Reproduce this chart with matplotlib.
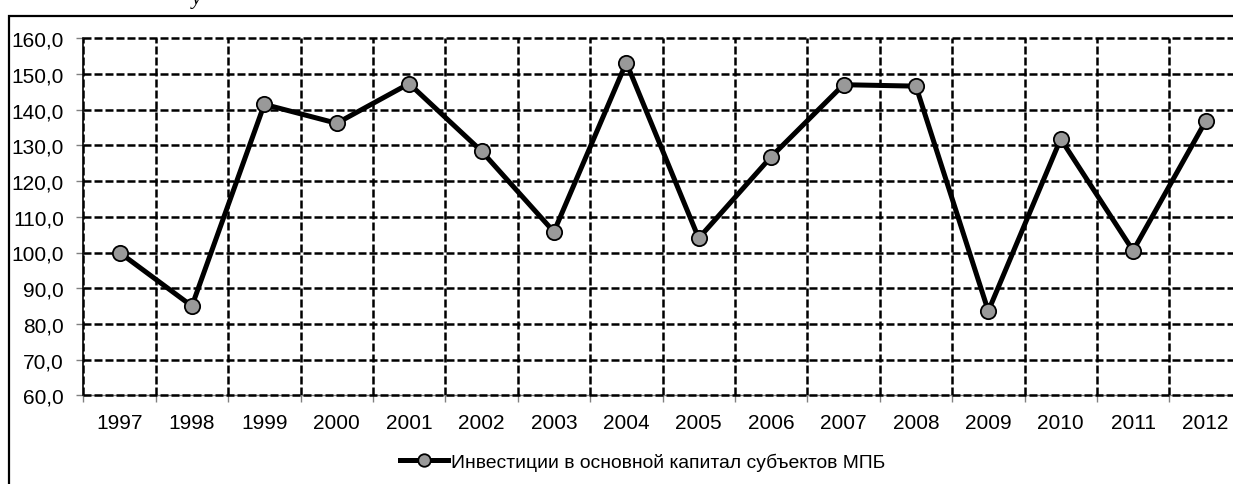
import matplotlib
matplotlib.use("Agg")
import matplotlib.pyplot as plt
from matplotlib.patches import Rectangle
from matplotlib.ticker import FixedLocator, MultipleLocator, FuncFormatter

years = ['1997', '1998', '1999', '2000', '2001', '2002', '2003', '2004',
         '2005', '2006', '2007', '2008', '2009', '2010', '2011', '2012']
values = [100.0, 85.0, 141.5, 136.2, 147.3, 128.4, 105.8, 153.2,
          104.0, 126.8, 147.0, 146.6, 83.6, 131.8, 100.5, 136.7]
series_label = 'Инвестиции в основной капитал субъектов МПБ'
y_min, y_max, y_step = 60, 160, 10

plt.rcParams['font.family'] = ['Liberation Sans', 'DejaVu Sans']

W, H = 1233, 485
fig = plt.figure(figsize=(W / 100, H / 100), dpi=100)

# outer frame (extends beyond the right and bottom edges)
fig.patches.append(Rectangle((8.5 / W, -0.1), 1.2, 1 - 16.5 / H + 0.1,
                             transform=fig.transFigure, fill=False,
                             edgecolor='black', linewidth=1.6, zorder=0))
# partially cut title glyph at the very top
fig.text(192 / W, 1 - 4 / H, 'у', fontsize=15, fontstyle='italic',
         family='Liberation Serif', ha='left', va='baseline')

left, right = 83.3, 1241.7
top, bottom = 39.3, 396.3
ax = fig.add_axes([left / W, 1 - bottom / H, (right - left) / W, (bottom - top) / H])

x = list(range(1, len(years) + 1))
ax.plot(x, values, color='black', linewidth=3.6, marker='o', markersize=11,
        markerfacecolor='#999999', markeredgecolor='black', markeredgewidth=1.3,
        label=series_label, zorder=5, clip_on=False)

ax.set_xlim(0.5, len(years) + 0.5)
ax.set_ylim(y_min, y_max)

ax.xaxis.set_major_locator(FixedLocator(x))
ax.set_xticklabels(years)
ax.xaxis.set_minor_locator(FixedLocator([i + 0.5 for i in range(0, len(years) + 1)]))
ax.yaxis.set_major_locator(MultipleLocator(y_step))
ax.yaxis.set_major_formatter(FuncFormatter(lambda v, p: f'{v:.1f}'.replace('.', ',')))

ax.tick_params(axis='x', which='major', length=0, pad=13, labelsize=15)
ax.tick_params(axis='x', which='minor', length=5, color='#808080', width=1)
ax.tick_params(axis='y', which='major', length=5, color='#808080', width=1,
               pad=9, labelsize=15)

dash = (0, (3.2, 1.2))
ax.grid(True, axis='y', which='major', color='black', linewidth=1.8, linestyle=dash)
ax.grid(True, axis='x', which='minor', color='black', linewidth=1.8, linestyle=dash)
ax.set_axisbelow(True)
for gl in ax.get_ygridlines():
    gl.set_clip_on(False)

for s in ['top', 'right']:
    ax.spines[s].set_visible(False)
ax.spines['left'].set_color('black')
ax.spines['left'].set_linewidth(1.2)
ax.spines['bottom'].set_color('#808080')
ax.spines['bottom'].set_linewidth(1)
ax.spines['bottom'].set_zorder(0.1)

leg = fig.legend(loc='center left', bbox_to_anchor=(400 / W, 1 - 463 / H),
                 bbox_transform=fig.transFigure, frameon=False, fontsize=13.9,
                 handlelength=2.5, handletextpad=0.15, borderpad=0, borderaxespad=0)
for h in leg.legend_handles:
    h.set_markersize(9)

fig.savefig('out.png', dpi=100)
